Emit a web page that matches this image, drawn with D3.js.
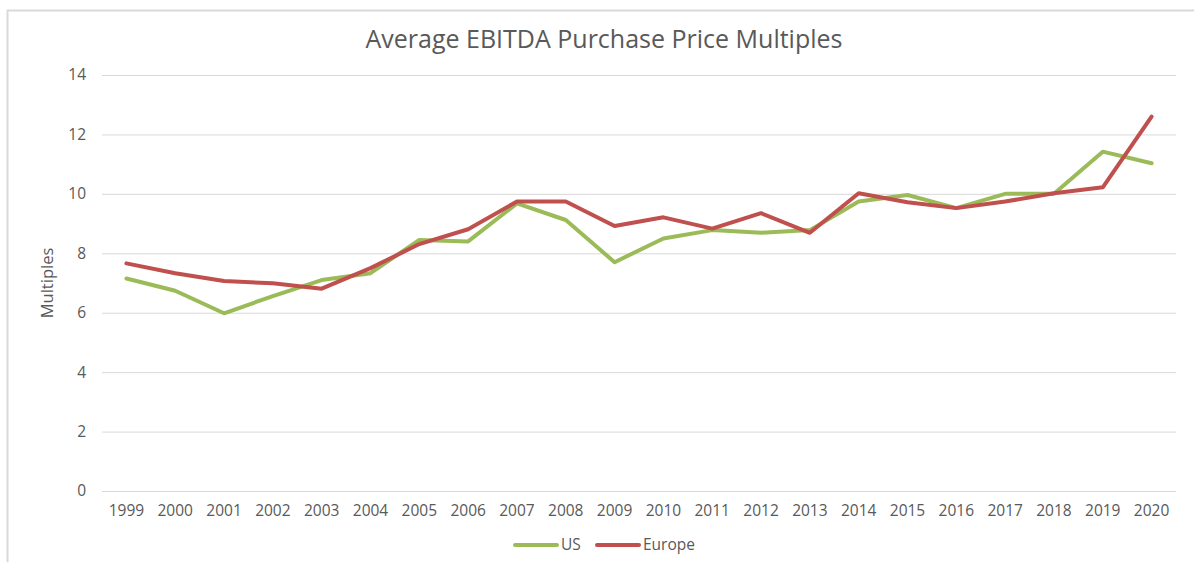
<!DOCTYPE html>
<html>
<head>
<meta charset="utf-8">
<script src="https://cdn.jsdelivr.net/npm/d3@7"></script>
<style>
	body { margin: 0; background: #fff; }
	text { font-family: "Open Sans", "Noto Sans", sans-serif; fill: #595959; }
</style>
</head>
<body>
<div id="chart"></div>
<script>
// Datos
var years = ['1999','2000','2001','2002','2003','2004','2005','2006','2007','2008','2009',
	'2010','2011','2012','2013','2014','2015','2016','2017','2018','2019','2020'];
var us = [7.15, 6.74, 5.98, 6.56, 7.1, 7.33, 8.45, 8.4, 9.68, 9.12, 7.7,
	8.5, 8.78, 8.69, 8.78, 9.74, 9.96, 9.52, 10.0, 10.0, 11.42, 11.03];
var europe = [7.66, 7.33, 7.07, 6.99, 6.81, 7.5, 8.31, 8.81, 9.74, 9.74, 8.92,
	9.21, 8.83, 9.35, 8.69, 10.02, 9.72, 9.52, 9.74, 10.02, 10.22, 12.6];
var yTicks = [0, 2, 4, 6, 8, 10, 12, 14];

var series = [
	{name: 'US', values: us, color: '#9bbb59'},
	{name: 'Europe', values: europe, color: '#c0504d'}
];

var width = 1194, height = 562;
var margin = {top: 75, right: 18, bottom: 71, left: 102};

var svg = d3.select('#chart').append('svg')
	.attr('width', width).attr('height', height);

// marco del área del gráfico
svg.append('rect')
	.attr('x', 7.5).attr('y', 10.5)
	.attr('width', width + 10).attr('height', height)
	.attr('fill', 'none').attr('stroke', '#d9d9d9').attr('stroke-width', 2);

var x = d3.scaleBand().domain(years)
	.range([margin.left, width - margin.right]);
var y = d3.scaleLinear().domain([0, 14])
	.range([height - margin.bottom, margin.top]);

// Gridlines
svg.append('g').selectAll('line').data(yTicks).enter().append('line')
	.attr('x1', margin.left).attr('x2', width - margin.right)
	.attr('y1', function(d) { return y(d) + 0.5; })
	.attr('y2', function(d) { return y(d) + 0.5; })
	.attr('stroke', '#d9d9d9').attr('stroke-width', 1);

// Y labels
svg.append('g').selectAll('text').data(yTicks).enter().append('text')
	.attr('x', 86).attr('y', function(d) { return y(d); })
	.attr('dy', '0.35em').attr('text-anchor', 'end')
	.style('font-size', '15.5px')
	.text(function(d) { return d; });

// X labels
svg.append('g').selectAll('text').data(years).enter().append('text')
	.attr('x', function(d) { return x(d) + x.bandwidth() / 2; })
	.attr('y', height - margin.bottom + 20)
	.attr('dy', '0.35em')
	.attr('text-anchor', 'middle')
	.style('font-size', '15.5px')
	.text(function(d) { return d; });

// Titulo
svg.append('text')
	.attr('x', 604).attr('y', 48)
	.attr('text-anchor', 'middle')
	.style('font-size', '25px')
	.text('Average EBITDA Purchase Price Multiples');

svg.append('text')
	.attr('transform', 'translate(53,' + ((margin.top + height - margin.bottom) / 2) + ') rotate(-90)')
	.attr('text-anchor', 'middle')
	.style('font-size', '16.5px')
	.text('Multiples');

// Lines
var line = d3.line()
	.x(function(d, i) { return x(years[i]) + x.bandwidth() / 2; })
	.y(function(d) { return y(d); });

svg.append('g').selectAll('path').data(series).enter().append('path')
	.attr('d', function(d) { return line(d.values); })
	.attr('fill', 'none')
	.attr('stroke', function(d) { return d.color; })
	.attr('stroke-width', 4)
	.attr('stroke-linejoin', 'round')
	.attr('stroke-linecap', 'round');

// Legend
var legendX = [515, 597];
var lg = svg.append('g').selectAll('g').data(series).enter().append('g')
	.attr('transform', function(d, i) { return 'translate(' + legendX[i] + ',545)'; });
lg.append('line')
	.attr('x1', 0).attr('x2', 42)
	.attr('stroke', function(d) { return d.color; })
	.attr('stroke-width', 4).attr('stroke-linecap', 'round');
lg.append('text')
	.attr('x', 46).attr('dy', '0.35em')
	.style('font-size', '15.5px')
	.text(function(d) { return d.name; });
</script>
</body>
</html>
